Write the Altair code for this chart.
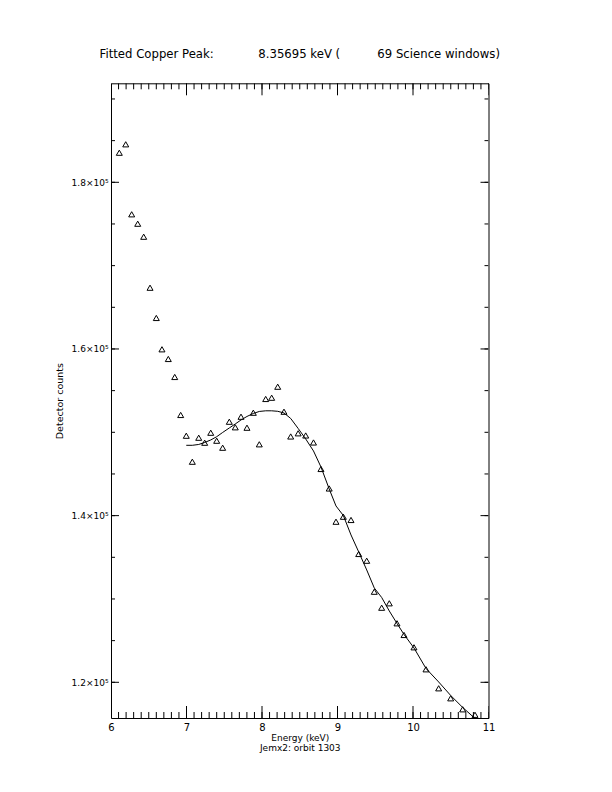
import altair as alt
import pandas as pd

# ---- data ----
energy = [6.110, 6.195, 6.274, 6.354, 6.433, 6.517, 6.600, 6.675, 6.759, 6.844,
          6.923, 6.997, 7.077, 7.162, 7.241, 7.321, 7.400, 7.479, 7.567, 7.646,
          7.722, 7.801, 7.885, 7.964, 8.049, 8.128, 8.208, 8.291, 8.380, 8.479,
          8.579, 8.682, 8.781, 8.890, 8.980, 9.077, 9.179, 9.281, 9.387, 9.487,
          9.585, 9.686, 9.788, 9.881, 10.013, 10.172, 10.340, 10.499, 10.658, 10.821,
          10.976]
counts = [183550, 184560, 176160, 175030, 173470, 167350, 163720, 159960, 158800, 156640,
          152080, 149590, 146470, 149350, 148750, 149950, 148990, 148150, 151270, 150600,
          151870, 150550, 152350, 148560, 154000, 154150, 155470, 152470, 149500, 149880,
          149620, 148780, 145600, 143260, 139270, 139870, 139480, 135400, 134590, 130870,
          128950, 129480, 127080, 125680, 124200, 121560, 119280, 118080, 116760, 116100,
          115350]
fit_energy = energy[11:]
fit_counts = [148440, 148440, 148540, 148780, 149080, 149470, 149980, 150520, 151000, 151480,
              151900, 152260, 152500, 152580, 152580, 152520, 152320, 151660, 150460, 149200,
              147760, 145840, 143200, 141160, 140020, 137680, 135640, 133480, 131320, 130180,
              128560, 127060, 125740, 124120, 121660, 120040, 118420, 116980, 115660, 114400]

x_major = [6, 7, 8, 9, 10, 11]
x_minor = [round(6 + 0.1 * i, 1) for i in range(51)]
y_major = [120000, 140000, 160000, 180000]
y_minor = [115000 + 5000 * i for i in range(16)]

title_text = ("Fitted Copper Peak:" + "\u2007" * 6 + "8.35695 keV (" + "\u2007" * 5
              + "69 Science windows)")
x_title = ["Energy (keV)", "Jemx2: orbit 1303"]
y_title = "Detector counts"

# ---- layout ----
W = 377.5
H = 634.7
FONT = "DejaVu Sans"

xscale = alt.Scale(domain=[6, 11], nice=False, zero=False)
yscale = alt.Scale(domain=[115716, 191880], nice=False, zero=False)

pts = pd.DataFrame({"energy": energy, "counts": counts})
fit = pd.DataFrame({"energy": fit_energy, "counts": fit_counts})

points = alt.Chart(pts).mark_point(
    shape="triangle-up", filled=False, color="black", size=36, strokeWidth=1,
    opacity=1, clip=True
).encode(
    x=alt.X("energy:Q", scale=xscale,
            axis=alt.Axis(values=x_major, format="d", ticks=False, domain=False,
                          grid=False, labelFontSize=10, labelPadding=4,
                          labelFont=FONT, labelColor="black", labelAlign="center",
                          labelFlush=False,
                          title=x_title, titleFont=FONT, titleFontSize=9,
                          titleFontWeight="normal", titleColor="black",
                          titleBaseline="top", titleY=15.5, titleLineHeight=10)),
    y=alt.Y("counts:Q", scale=yscale,
            axis=alt.Axis(values=y_major, ticks=False, domain=False, grid=False,
                          labelExpr="format(datum.value/100000, '.1f') + '×10⁵'",
                          labelFontSize=9, labelPadding=3, labelFont=FONT,
                          labelColor="black", labelBaseline="middle",
                          labelFlush=False,
                          title=y_title, titleFont=FONT, titleFontSize=9.5,
                          titleFontWeight="normal", titleColor="black",
                          titleX=-52, titleY=H / 2, titleAngle=270,
                          titleAlign="center", titleBaseline="middle")),
)

line = alt.Chart(fit).mark_line(color="black", strokeWidth=1, clip=True).encode(
    x=alt.X("energy:Q", scale=xscale),
    y=alt.Y("counts:Q", scale=yscale),
)


def yticks(vals, length):
    df = pd.DataFrame({"v": vals})
    left = alt.Chart(df).mark_rule(color="black", strokeWidth=1, clip=True).encode(
        y=alt.Y("v:Q", scale=yscale),
        x=alt.value(0), x2=alt.value(length))
    right = alt.Chart(df).mark_rule(color="black", strokeWidth=1, clip=True).encode(
        y=alt.Y("v:Q", scale=yscale),
        x=alt.value(W), x2=alt.value(W - length))
    return [left, right]


def xticks(vals, length):
    df = pd.DataFrame({"v": vals})
    bottom = alt.Chart(df).mark_rule(color="black", strokeWidth=1, clip=True).encode(
        x=alt.X("v:Q", scale=xscale),
        y=alt.value(H), y2=alt.value(H - length))
    top = alt.Chart(df).mark_rule(color="black", strokeWidth=1, clip=True).encode(
        x=alt.X("v:Q", scale=xscale),
        y=alt.value(0), y2=alt.value(length))
    return [bottom, top]


layers = [points, line] + yticks(y_minor, 4) + yticks(y_major, 8) \
    + xticks(x_minor, 6) + xticks(x_major, 12)

chart = alt.layer(*layers).properties(
    width=W, height=H,
    autosize=alt.AutoSizeParams(type="none"),
    padding={"left": 103, "top": 75.3, "right": 20, "bottom": 60},
    title=alt.TitleParams(text=title_text, anchor="middle", font=FONT, fontSize=11.7,
                          fontWeight="normal", color="black", offset=14,
                          baseline="alphabetic"),
).configure(background="white").configure_view(stroke="black", strokeWidth=1)

chart.save("out.html", embed_options={"renderer": "svg", "actions": False})
